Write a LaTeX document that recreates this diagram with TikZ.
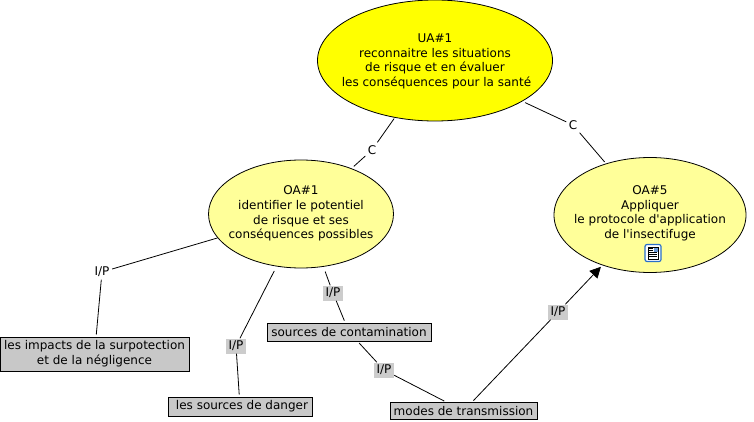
\documentclass[tikz,border=0pt]{standalone}
\usepackage{fontspec}
\newfontfamily\plainfont{DejaVu Sans}
\usetikzlibrary{shapes.geometric,arrows.meta}
\definecolor{uayellow}{HTML}{FFFF00}
\definecolor{oayellow}{HTML}{FFFF99}
\definecolor{boxgrey}{HTML}{C8C8C8}
\definecolor{labgrey}{HTML}{CCCCCC}
\definecolor{iconblue}{HTML}{2A6FC9}
% text of a bubble: takes no room, so that the ellipse keeps the size it is given
\newcommand{\bubbletext}[1]{\raisebox{-4pt}[0pt][0pt]{\makebox[0pt]{\begin{tabular}[c]{@{}c@{}}#1\end{tabular}}}}
\tikzset{
  txt/.style={font=\plainfont\fontsize{12}{14.7}\selectfont,text=black},
  bubble/.style={ellipse,draw=black,line width=0.8pt,inner sep=0pt,txt},
  conceptbox/.style={rectangle,draw=black,line width=1pt,fill=boxgrey,inner sep=0pt,align=center,txt},
  linklab/.style={rectangle,inner sep=0pt,minimum height=15pt,txt},
  greylab/.style={linklab,fill=labgrey,minimum width=20pt},
  whitelab/.style={linklab,fill=white,minimum width=20pt},
  clab/.style={linklab,fill=white,minimum width=13pt},
  conn/.style={draw=black,line width=0.8pt},
  gapstart/.style={shorten <=5pt},
  gapend/.style={shorten >=2pt},
}
\begin{document}
\begin{tikzpicture}[x=1pt,y=-1pt]
\useasboundingbox (0,0) rectangle (754,422);
% ellipses
\node[bubble,fill=uayellow,minimum width=235pt,minimum height=121pt] (ua) at (435,60.5)
  {\bubbletext{UA\#1\\reconnaitre les situations\hspace{3pt}\\de risque et en évaluer\\\hspace{3pt}les conséquences pour la santé}};
\node[bubble,fill=oayellow,minimum width=185pt,minimum height=108pt] (oa1) at (301,214)
  {\raisebox{2pt}{\bubbletext{OA\#1\\identifier le potentiel\\de risque et ses\\conséquences possibles}}};
\node[bubble,fill=oayellow,minimum width=192pt,minimum height=115pt] (oa5) at (650,215)
  {\raisebox{5pt}{\bubbletext{OA\#5\\Appliquer\\le protocole d'application\\de l'insectifuge}}};
% boxes
\node[conceptbox,minimum width=189pt,minimum height=34pt] (impacts) at (94.5,354)
  {les impacts de la surpotection\\et de la négligence};
\node[conceptbox,minimum width=144pt,minimum height=19pt] (danger) at (240,406.5)
  {\hspace{4pt}les sources de danger};
\node[conceptbox,minimum width=164pt,minimum height=18pt] (contam) at (349,332)
  {sources de contamination};
\node[conceptbox,minimum width=147pt,minimum height=17pt] (modes) at (463.5,411)
  {modes de transmission};
% labels
\node[clab] (c1) at (372,150) {C};
\node[clab] (c2) at (573,125) {C};
\node[whitelab] (ip1) at (102,272) {I/P};
\node[greylab] (ip2) at (236,346) {I/P};
\node[greylab] (ip3) at (333,293) {I/P};
\node[greylab] (ip4) at (384,370) {I/P};
\node[greylab] (ip5) at (558,312) {I/P};
% connectors
\draw[conn,shorten <=1pt] (ua) -- (c1);
\draw[conn,shorten >=3pt] (c1) -- (oa1);
\draw[conn,shorten <=3pt] (ua) -- (c2);
\draw[conn,shorten >=2pt] (c2) -- (oa5);
\draw[conn] (oa1.196) -- (ip1);
\draw[conn,gapend] (ip1) -- (impacts);
\draw[conn,gapstart] (oa1.245) -- (ip2);
\draw[conn,gapend] (ip2) -- (danger);
\draw[conn,gapstart] (oa1.293) -- (ip3);
\draw[conn,gapend] (ip3) -- (contam);
\draw[conn,shorten <=2pt] (contam) -- (ip4);
\draw[conn,gapend] (ip4) -- (modes);
\draw[conn,shorten <=2pt] (modes) -- (ip5);
\draw[conn,-{Triangle[length=11pt,width=11pt]},shorten >=2pt] (ip5) -- (oa5);
% document icon
\begin{scope}[shift={(653,253)}]
  \fill[white,draw=iconblue,line width=1.2pt,rounded corners=2pt] (-8,-8.5) rectangle (8,8.5);
  \fill[white,draw=black,line width=0.7pt] (-5,-6) rectangle (5,6);
  \fill[iconblue!70] (0.5,-5.5) rectangle (4.5,-1.5);
  \draw[black,line width=0.7pt] (-4,-4.5) -- (0,-4.5) (-4,-2.5) -- (0,-2.5) (-4,-0.5) -- (4,-0.5) (-4,1.5) -- (4,1.5) (-4,3.5) -- (4,3.5);
\end{scope}
\end{tikzpicture}
\end{document}
